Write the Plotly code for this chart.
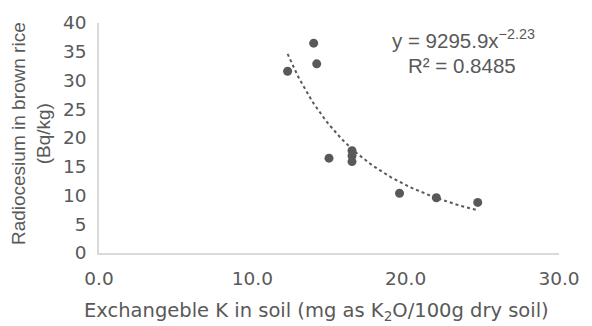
import numpy as np
import plotly.graph_objects as go

# Data
k_soil = [12.3, 14.0, 14.2, 15.0, 16.5, 16.5, 16.5, 19.6, 22.0, 24.7]
cs_rice = [31.6, 36.5, 32.9, 16.5, 17.8, 16.9, 15.9, 10.4, 9.6, 8.8]
x_ticks = [0, 10, 20, 30]
x_tick_labels = ["0.0", "10.0", "20.0", "30.0"]
y_ticks = [0, 5, 10, 15, 20, 25, 30, 35, 40]
equation_text = "y = 9295.9x<sup>−2.23</sup>"
r2_text = "R² = 0.8485"
x_title = "Exchangeble K in soil (mg as K<sub>2</sub>O/100g dry soil)"
y_title = "Radiocesium in brown rice<br>(Bq/kg)"

# Power trendline (least squares in log-log space, as Excel does)
b, log_a = np.polyfit(np.log(k_soil), np.log(cs_rice), 1)
a = np.exp(log_a)
xt = np.linspace(min(k_soil), max(k_soil), 80)
yt = a * xt ** b

GRAY = "#595959"
AXIS = "#d9d9d9"
WIDE = "DejaVu Sans"
LAT = "Liberation Sans, Arial"

# plot area in pixels
L, R, T, B = 99, 569, 18, 253
W, H = 592, 326


def px(xp):
    return (xp - L) / (R - L)


def py(yp):
    return (B - yp) / (B - T)


fig = go.Figure()
fig.add_trace(go.Scatter(x=xt, y=yt, mode="lines",
                         line=dict(color=GRAY, width=2, dash="dot"),
                         hoverinfo="skip", showlegend=False))
fig.add_trace(go.Scatter(x=k_soil, y=cs_rice, mode="markers",
                         marker=dict(color=GRAY, size=9),
                         showlegend=False))

fig.update_layout(
    width=W, height=H,
    margin=dict(l=L, r=W - R, t=T, b=H - B),
    paper_bgcolor="white", plot_bgcolor="white",
    xaxis=dict(range=[0, 30], tickvals=x_ticks, ticktext=x_tick_labels,
               showgrid=False, zeroline=False, showline=True,
               linecolor=AXIS, linewidth=1.5, ticks="",
               ticklabelstandoff=8,
               tickfont=dict(family=WIDE, size=18.5, color=GRAY)),
    yaxis=dict(range=[0, 40], tickvals=y_ticks,
               showgrid=False, zeroline=False, showline=True,
               linecolor=AXIS, linewidth=1.5, ticks="",
               ticklabelstandoff=7,
               tickfont=dict(family=WIDE, size=18.5, color=GRAY)),
    annotations=[
        dict(text=equation_text, x=px(471), y=py(34), xref="paper", yref="paper",
             xanchor="center", yanchor="middle",
             showarrow=False, font=dict(family=LAT, size=20.5, color=GRAY)),
        dict(text=r2_text, x=px(470), y=py(61), xref="paper", yref="paper",
             xanchor="center", yanchor="middle",
             showarrow=False, font=dict(family=LAT, size=20.5, color=GRAY)),
        dict(text=x_title, x=px(321), y=py(313), xref="paper", yref="paper",
             xanchor="center", yanchor="middle",
             showarrow=False, font=dict(family=WIDE, size=19.5, color=GRAY)),
        dict(text=y_title, x=px(29), y=py(131), xref="paper", yref="paper",
             xanchor="center", yanchor="middle", textangle=-90,
             showarrow=False, font=dict(family=LAT, size=19, color=GRAY)),
    ],
)

fig.write_html("out.html")
